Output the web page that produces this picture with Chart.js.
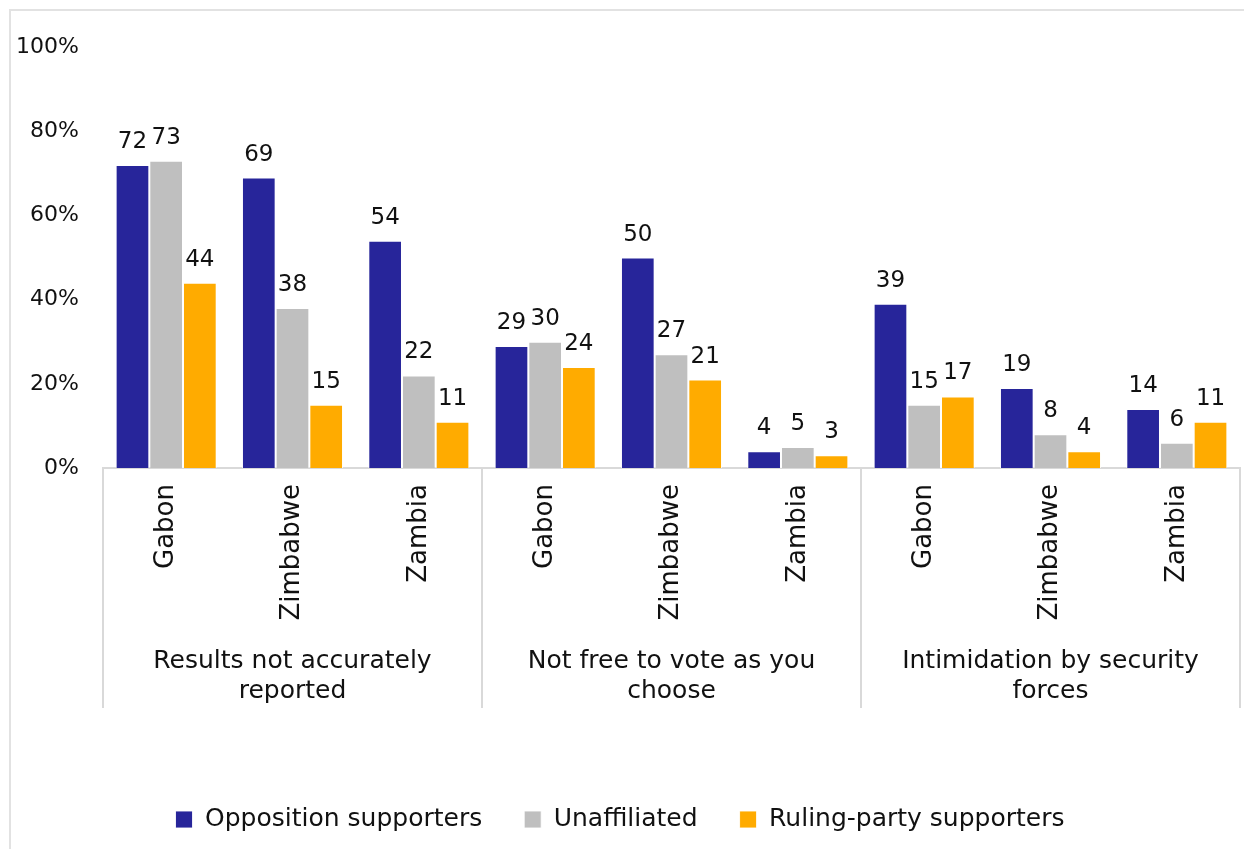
<!DOCTYPE html>
<html><head><meta charset="utf-8">
<script src="https://cdn.jsdelivr.net/npm/chart.js@4/dist/chart.umd.min.js"></script>
<style>
html,body{margin:0;padding:0;background:#fff;overflow:hidden;width:1244px;height:849px;}
#frame{position:absolute;left:9px;top:9px;width:1400px;height:1000px;border-top:2px solid #e2e2e2;border-left:2px solid #e2e2e2;}
#wrap{position:absolute;left:0;top:0;width:1244px;height:842px;}
</style></head><body>
<div id="frame"></div>
<div id="wrap"><canvas id="c"></canvas></div>
<script>
const countries = ['Gabon','Zimbabwe','Zambia','Gabon','Zimbabwe','Zambia','Gabon','Zimbabwe','Zambia'];
const groups = [['Results not accurately','reported'],['Not free to vote as you','choose'],['Intimidation by security','forces']];
const seriesNames = ['Opposition supporters','Unaffiliated','Ruling-party supporters'];
const opposition = [72,69,54,29,50,4,39,19,14];
const unaffiliated = [73,38,22,30,27,5,15,8,6];
const ruling = [44,15,11,24,21,3,17,4,11];
const colors = ['#27259A','#BFBFBF','#FFAB00'];

const FONT = "'DejaVu Sans', sans-serif";
const TXT = '#111111';
const LINE = '#d9d9d9';

const valueLabels = {
  id: 'valueLabels',
  afterDatasetsDraw(chart) {
    const ctx = chart.ctx;
    ctx.save();
    ctx.font = '23px ' + FONT;
    ctx.fillStyle = TXT;
    ctx.textAlign = 'center';
    ctx.textBaseline = 'alphabetic';
    chart.data.datasets.forEach((ds, i) => {
      const meta = chart.getDatasetMeta(i);
      meta.data.forEach((bar, j) => {
        ctx.fillText(String(ds.data[j]), bar.x, bar.y - 17);
      });
    });
    ctx.restore();
  }
};

const groupDividers = {
  id: 'groupDividers',
  afterDraw(chart) {
    const x = chart.scales.x, x2 = chart.scales.x2;
    const ctx = chart.ctx;
    const n = groups.length;
    const yTop = x.top;
    const yBot = x2.top + 67;
    ctx.save();
    ctx.strokeStyle = LINE;
    ctx.lineWidth = 2;
    for (let k = 0; k <= n; k++) {
      let px;
      if (k === 0) px = x2.left;
      else if (k === n) px = x2.right;
      else px = (x2.getPixelForTick(k - 1) + x2.getPixelForTick(k)) / 2;
      px = Math.round(px);
      ctx.beginPath();
      ctx.moveTo(px, yTop);
      ctx.lineTo(px, yBot);
      ctx.stroke();
    }
    ctx.restore();
  }
};

new Chart(document.getElementById('c'), {
  type: 'bar',
  data: {
    labels: countries,
    datasets: [
      { label: seriesNames[0], data: opposition, backgroundColor: colors[0], borderColor: 'rgba(255,255,255,0.85)', borderWidth: 1 },
      { label: seriesNames[1], data: unaffiliated, backgroundColor: colors[1], borderColor: 'rgba(255,255,255,0.85)', borderWidth: 1 },
      { label: seriesNames[2], data: ruling, backgroundColor: colors[2], borderColor: 'rgba(255,255,255,0.85)', borderWidth: 1 }
    ]
  },
  options: {
    responsive: true,
    maintainAspectRatio: false,
    animation: false,
    layout: { padding: { top: 47, right: 4, left: 0, bottom: 0 } },
    datasets: { bar: { categoryPercentage: 0.8, barPercentage: 1.0 } },
    scales: {
      y: {
        min: 0, max: 100,
        ticks: { stepSize: 20, callback: v => v + '%', font: { family: FONT, size: 22 }, color: TXT, padding: 24 },
        grid: { display: false, drawTicks: false },
        border: { display: false },
        afterFit: s => { s.width = 103; }
      },
      x: {
        position: 'bottom',
        ticks: { minRotation: 90, maxRotation: 90, font: { family: FONT, size: 26 }, color: TXT, padding: 16, autoSkip: false },
        grid: { display: false, drawTicks: false },
        border: { display: true, color: LINE, width: 2 },
        afterFit: s => { s.height = 173; }
      },
      x2: {
        type: 'category',
        position: 'bottom',
        weight: 1,
        labels: groups,
        offset: true,
        ticks: { font: { family: FONT, size: 25 }, color: TXT, padding: 5, maxRotation: 0, minRotation: 0, autoSkip: false },
        grid: { display: false, drawTicks: false },
        border: { display: false },
        afterFit: s => { s.height = 124; }
      }
    },
    plugins: {
      legend: {
        position: 'bottom',
        labels: { font: { family: FONT, size: 25 }, color: TXT, boxWidth: 17, boxHeight: 17, padding: 42 }
      },
      tooltip: { enabled: false }
    }
  },
  plugins: [valueLabels, groupDividers]
});
</script>
</body></html>
